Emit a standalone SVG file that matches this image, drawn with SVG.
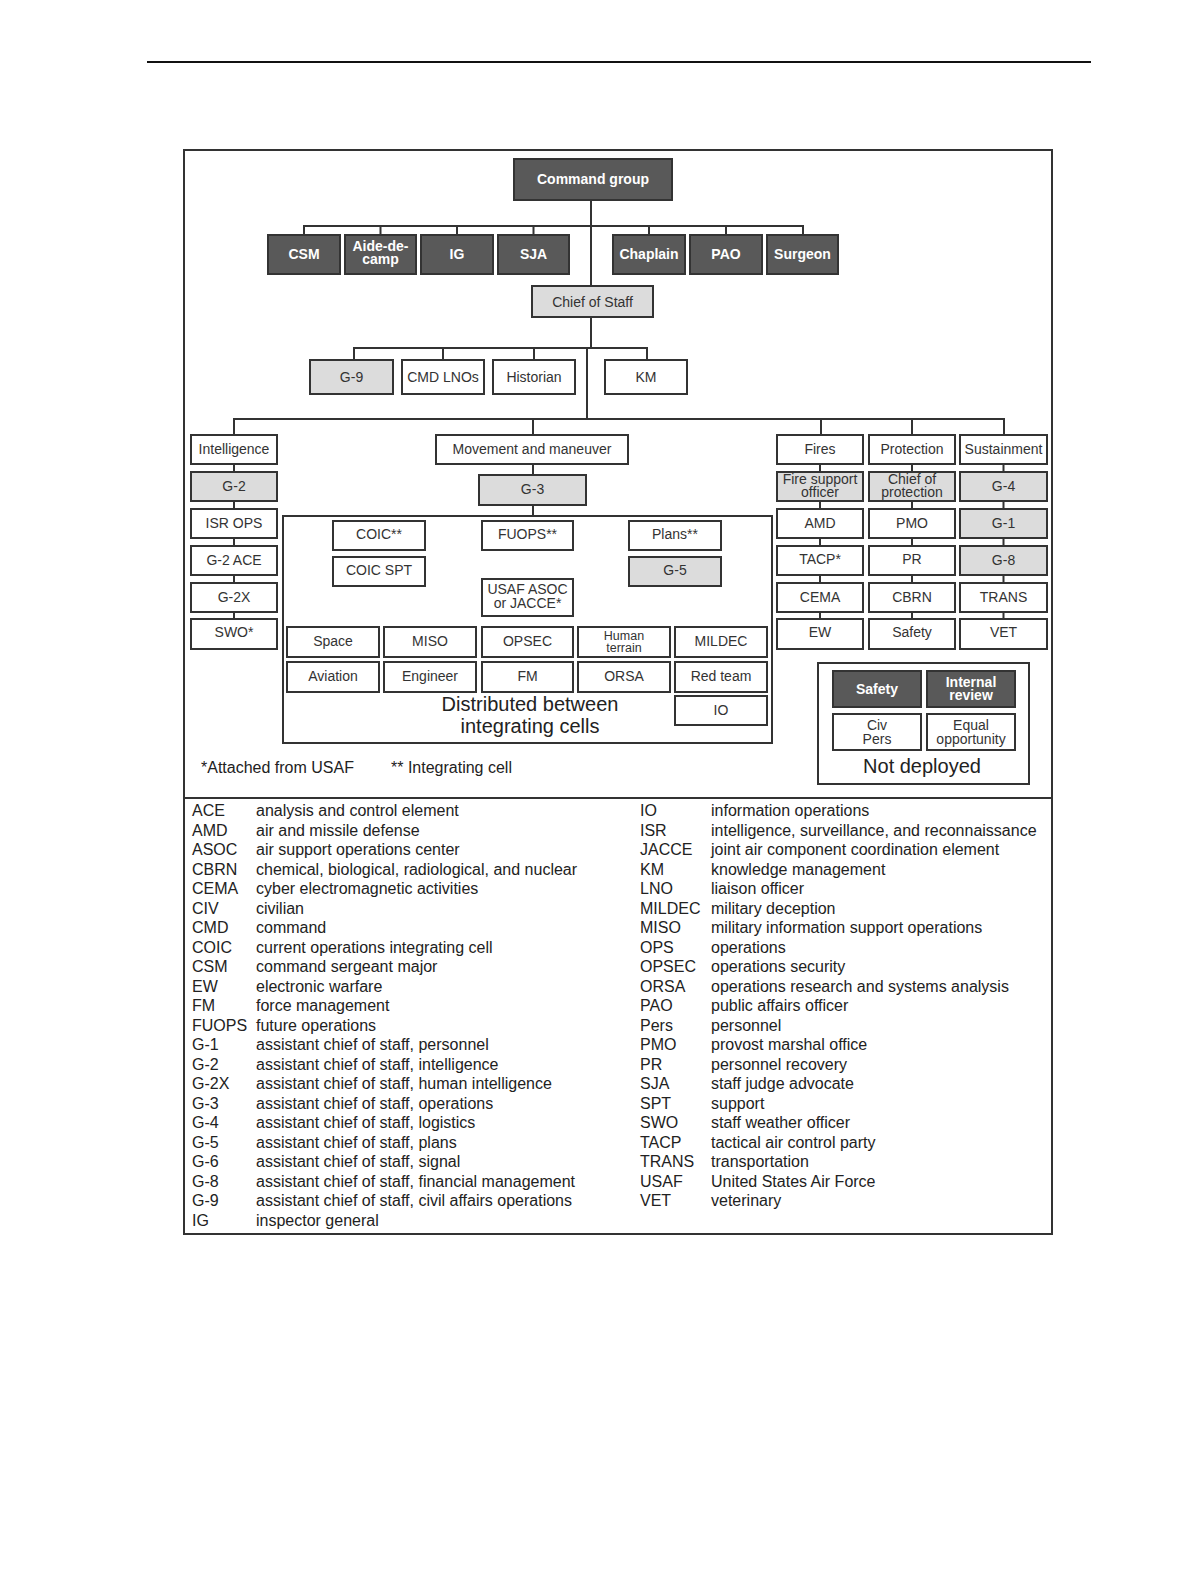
<svg xmlns="http://www.w3.org/2000/svg" width="1200" height="1575" viewBox="0 0 1200 1575">
<style>
text{font-family:"Liberation Sans",Arial,sans-serif;}
.w{fill:#fff;stroke:#333;stroke-width:2}
.g{fill:#dcdcdc;stroke:#333;stroke-width:2}
.d{fill:#595959;stroke:#333;stroke-width:2}
.t{font-size:14px;fill:#333;text-anchor:middle}
.ts{font-size:12.5px;fill:#333;text-anchor:middle}
.tb{font-size:14px;fill:#fff;font-weight:bold;text-anchor:middle}
.c{stroke:#333;stroke-width:2;fill:none}
.lg{font-size:16px;fill:#222}
.big{font-size:20px;fill:#222;text-anchor:middle}
.fn{font-size:16px;fill:#222}
</style>
<rect width="1200" height="1575" fill="#fff"/>
<line x1="147" y1="62" x2="1091" y2="62" stroke="#111" stroke-width="2"/>
<rect x="184" y="150" width="868" height="1084" fill="none" stroke="#333" stroke-width="2"/>
<line x1="184" y1="798" x2="1052" y2="798" stroke="#333" stroke-width="2"/>

<g id="connectors" class="c">
<path d="M591 200V286M304 235V226H803V235M380.5 226V235M457 226V235M533.5 226V235M649 226V235M726 226V235"/>
<path d="M591 317V348M354 360V348H647V360M443 348V360M534 348V360M587 348V419"/>
<path d="M234 435V419H1004V435M533 419V435M821 419V435M912 419V435"/>
<path d="M234 464V472M234 501V509M234 538V546M234 575V583M234 612V619"/>
<path d="M533 464V475M533 505V516"/>
<path d="M820 464V472M820 501V509M820 538V546M820 575V583M820 612V619"/>
<path d="M912 464V472M912 501V509M912 538V546M912 575V583M912 612V619"/>
<path d="M1003.5 464V472M1003.5 501V509M1003.5 538V546M1003.5 575V583M1003.5 612V619"/>
</g>

<g id="command-group"><rect class="d" x="514" y="159" width="158" height="41"/><text class="tb" x="593" y="184">Command group</text></g>
<g id="csm"><rect class="d" x="268" y="235" width="72" height="39"/><text class="tb" x="304" y="259">CSM</text></g>
<g id="aide"><rect class="d" x="345" y="235" width="71" height="39"/><text class="tb" x="380.5" y="251">Aide-de-</text><text class="tb" x="380.5" y="264">camp</text></g>
<g id="ig"><rect class="d" x="421" y="235" width="72" height="39"/><text class="tb" x="457" y="259">IG</text></g>
<g id="sja"><rect class="d" x="498" y="235" width="71" height="39"/><text class="tb" x="533.5" y="259">SJA</text></g>
<g id="chaplain"><rect class="d" x="613" y="235" width="72" height="39"/><text class="tb" x="649" y="259">Chaplain</text></g>
<g id="pao"><rect class="d" x="690" y="235" width="72" height="39"/><text class="tb" x="726" y="259">PAO</text></g>
<g id="surgeon"><rect class="d" x="767" y="235" width="71" height="39"/><text class="tb" x="802.5" y="259">Surgeon</text></g>

<g id="chief-of-staff"><rect class="g" x="532" y="286" width="121" height="31"/><text class="t" x="592.5" y="307">Chief of Staff</text></g>
<g id="g9"><rect class="g" x="310" y="360" width="83" height="34"/><text class="t" x="351.5" y="382">G-9</text></g>
<g id="cmd-lnos"><rect class="w" x="402" y="360" width="82" height="34"/><text class="t" x="443" y="382">CMD LNOs</text></g>
<g id="historian"><rect class="w" x="493" y="360" width="82" height="34"/><text class="t" x="534" y="382">Historian</text></g>
<g id="km"><rect class="w" x="605" y="360" width="82" height="34"/><text class="t" x="646" y="382">KM</text></g>

<g id="intelligence"><rect class="w" x="191" y="435" width="86" height="29"/><text class="t" x="234" y="454">Intelligence</text></g>
<g id="g2"><rect class="g" x="191" y="472" width="86" height="29"/><text class="t" x="234" y="491">G-2</text></g>
<g id="isr-ops"><rect class="w" x="191" y="509" width="86" height="29"/><text class="t" x="234" y="528">ISR OPS</text></g>
<g id="g2-ace"><rect class="w" x="191" y="546" width="86" height="29"/><text class="t" x="234" y="565">G-2 ACE</text></g>
<g id="g2x"><rect class="w" x="191" y="583" width="86" height="29"/><text class="t" x="234" y="602">G-2X</text></g>
<g id="swo"><rect class="w" x="191" y="619" width="86" height="30"/><text class="t" x="234" y="637">SWO*</text></g>

<g id="movement"><rect class="w" x="436" y="435" width="192" height="29"/><text class="t" x="532" y="454">Movement and maneuver</text></g>
<g id="g3"><rect class="g" x="479" y="475" width="107" height="30"/><text class="t" x="532.5" y="494">G-3</text></g>

<g id="integrating-cells">
<rect x="283" y="516" width="489" height="227" fill="#fff" stroke="#333" stroke-width="2"/>
<text class="big" x="530" y="711">Distributed between</text>
<text class="big" x="530" y="733">integrating cells</text>
</g>
<g id="coic"><rect class="w" x="333" y="521" width="92" height="29"/><text class="t" x="379" y="539">COIC**</text></g>
<g id="coic-spt"><rect class="w" x="333" y="557" width="92" height="29"/><text class="t" x="379" y="575">COIC SPT</text></g>
<g id="fuops"><rect class="w" x="482" y="521" width="91" height="29"/><text class="t" x="527.5" y="539">FUOPS**</text></g>
<g id="usaf-asoc"><rect class="w" x="482" y="579" width="91" height="37"/><text class="t" x="527.5" y="594">USAF ASOC</text><text class="t" x="527.5" y="608">or JACCE*</text></g>
<g id="plans"><rect class="w" x="629" y="521" width="92" height="29"/><text class="t" x="675" y="539">Plans**</text></g>
<g id="g5"><rect class="g" x="629" y="557" width="92" height="29"/><text class="t" x="675" y="575">G-5</text></g>

<g id="space"><rect class="w" x="287" y="627" width="92" height="30"/><text class="t" x="333" y="646">Space</text></g>
<g id="miso"><rect class="w" x="384" y="627" width="92" height="30"/><text class="t" x="430" y="646">MISO</text></g>
<g id="opsec"><rect class="w" x="482" y="627" width="91" height="30"/><text class="t" x="527.5" y="646">OPSEC</text></g>
<g id="human-terrain"><rect class="w" x="578" y="627" width="92" height="30"/><text class="ts" x="624" y="640">Human</text><text class="ts" x="624" y="652">terrain</text></g>
<g id="mildec"><rect class="w" x="675" y="627" width="92" height="30"/><text class="t" x="721" y="646">MILDEC</text></g>
<g id="aviation"><rect class="w" x="287" y="662" width="92" height="30"/><text class="t" x="333" y="681">Aviation</text></g>
<g id="engineer"><rect class="w" x="384" y="662" width="92" height="30"/><text class="t" x="430" y="681">Engineer</text></g>
<g id="fm"><rect class="w" x="482" y="662" width="91" height="30"/><text class="t" x="527.5" y="681">FM</text></g>
<g id="orsa"><rect class="w" x="578" y="662" width="92" height="30"/><text class="t" x="624" y="681">ORSA</text></g>
<g id="red-team"><rect class="w" x="675" y="662" width="92" height="30"/><text class="t" x="721" y="681">Red team</text></g>
<g id="io"><rect class="w" x="675" y="696" width="92" height="29"/><text class="t" x="721" y="715">IO</text></g>

<g id="fires"><rect class="w" x="777" y="435" width="86" height="29"/><text class="t" x="820" y="454">Fires</text></g>
<g id="fso"><rect class="g" x="777" y="472" width="86" height="29"/><text class="t" x="820" y="484">Fire support</text><text class="t" x="820" y="497">officer</text></g>
<g id="amd"><rect class="w" x="777" y="509" width="86" height="29"/><text class="t" x="820" y="528">AMD</text></g>
<g id="tacp"><rect class="w" x="777" y="546" width="86" height="29"/><text class="t" x="820" y="564">TACP*</text></g>
<g id="cema"><rect class="w" x="777" y="583" width="86" height="29"/><text class="t" x="820" y="602">CEMA</text></g>
<g id="ew"><rect class="w" x="777" y="619" width="86" height="30"/><text class="t" x="820" y="637">EW</text></g>

<g id="protection"><rect class="w" x="869" y="435" width="86" height="29"/><text class="t" x="912" y="454">Protection</text></g>
<g id="chief-protection"><rect class="g" x="869" y="472" width="86" height="29"/><text class="t" x="912" y="484">Chief of</text><text class="t" x="912" y="497">protection</text></g>
<g id="pmo"><rect class="w" x="869" y="509" width="86" height="29"/><text class="t" x="912" y="528">PMO</text></g>
<g id="pr"><rect class="w" x="869" y="546" width="86" height="29"/><text class="t" x="912" y="564">PR</text></g>
<g id="cbrn"><rect class="w" x="869" y="583" width="86" height="29"/><text class="t" x="912" y="602">CBRN</text></g>
<g id="safety"><rect class="w" x="869" y="619" width="86" height="30"/><text class="t" x="912" y="637">Safety</text></g>

<g id="sustainment"><rect class="w" x="960" y="435" width="87" height="29"/><text class="t" x="1003.5" y="454">Sustainment</text></g>
<g id="g4"><rect class="g" x="960" y="472" width="87" height="29"/><text class="t" x="1003.5" y="491">G-4</text></g>
<g id="g1"><rect class="g" x="960" y="509" width="87" height="29"/><text class="t" x="1003.5" y="528">G-1</text></g>
<g id="g8"><rect class="g" x="960" y="546" width="87" height="29"/><text class="t" x="1003.5" y="565">G-8</text></g>
<g id="trans"><rect class="w" x="960" y="583" width="87" height="29"/><text class="t" x="1003.5" y="602">TRANS</text></g>
<g id="vet"><rect class="w" x="960" y="619" width="87" height="30"/><text class="t" x="1003.5" y="637">VET</text></g>

<g id="not-deployed">
<rect x="818" y="663" width="211" height="121" fill="#fff" stroke="#333" stroke-width="2"/>
<text class="big" x="922" y="773">Not deployed</text>
</g>
<g id="nd-safety"><rect class="d" x="833" y="671" width="88" height="36"/><text class="tb" x="877" y="694">Safety</text></g>
<g id="nd-internal-review"><rect class="d" x="927" y="671" width="88" height="36"/><text class="tb" x="971" y="687">Internal</text><text class="tb" x="971" y="700">review</text></g>
<g id="nd-civ-pers"><rect class="w" x="833" y="714" width="88" height="36"/><text class="t" x="877" y="730">Civ</text><text class="t" x="877" y="744">Pers</text></g>
<g id="nd-eo"><rect class="w" x="927" y="714" width="88" height="36"/><text class="t" x="971" y="730">Equal</text><text class="t" x="971" y="744">opportunity</text></g>

<text class="fn" x="201" y="773">*Attached from USAF</text>
<text class="fn" x="391" y="773">** Integrating cell</text>

<g id="legend-left" class="lg">
<text x="192" y="816">ACE</text><text x="256" y="816">analysis and control element</text>
<text x="192" y="835.5">AMD</text><text x="256" y="835.5">air and missile defense</text>
<text x="192" y="855">ASOC</text><text x="256" y="855">air support operations center</text>
<text x="192" y="874.5">CBRN</text><text x="256" y="874.5">chemical, biological, radiological, and nuclear</text>
<text x="192" y="894">CEMA</text><text x="256" y="894">cyber electromagnetic activities</text>
<text x="192" y="913.5">CIV</text><text x="256" y="913.5">civilian</text>
<text x="192" y="933">CMD</text><text x="256" y="933">command</text>
<text x="192" y="952.5">COIC</text><text x="256" y="952.5">current operations integrating cell</text>
<text x="192" y="972">CSM</text><text x="256" y="972">command sergeant major</text>
<text x="192" y="991.5">EW</text><text x="256" y="991.5">electronic warfare</text>
<text x="192" y="1011">FM</text><text x="256" y="1011">force management</text>
<text x="192" y="1030.5">FUOPS</text><text x="256" y="1030.5">future operations</text>
<text x="192" y="1050">G-1</text><text x="256" y="1050">assistant chief of staff, personnel</text>
<text x="192" y="1069.5">G-2</text><text x="256" y="1069.5">assistant chief of staff, intelligence</text>
<text x="192" y="1089">G-2X</text><text x="256" y="1089">assistant chief of staff, human intelligence</text>
<text x="192" y="1108.5">G-3</text><text x="256" y="1108.5">assistant chief of staff, operations</text>
<text x="192" y="1128">G-4</text><text x="256" y="1128">assistant chief of staff, logistics</text>
<text x="192" y="1147.5">G-5</text><text x="256" y="1147.5">assistant chief of staff, plans</text>
<text x="192" y="1167">G-6</text><text x="256" y="1167">assistant chief of staff, signal</text>
<text x="192" y="1186.5">G-8</text><text x="256" y="1186.5">assistant chief of staff, financial management</text>
<text x="192" y="1206">G-9</text><text x="256" y="1206">assistant chief of staff, civil affairs operations</text>
<text x="192" y="1225.5">IG</text><text x="256" y="1225.5">inspector general</text>
</g>
<g id="legend-right" class="lg">
<text x="640" y="816">IO</text><text x="711" y="816">information operations</text>
<text x="640" y="835.5">ISR</text><text x="711" y="835.5">intelligence, surveillance, and reconnaissance</text>
<text x="640" y="855">JACCE</text><text x="711" y="855">joint air component coordination element</text>
<text x="640" y="874.5">KM</text><text x="711" y="874.5">knowledge management</text>
<text x="640" y="894">LNO</text><text x="711" y="894">liaison officer</text>
<text x="640" y="913.5">MILDEC</text><text x="711" y="913.5">military deception</text>
<text x="640" y="933">MISO</text><text x="711" y="933">military information support operations</text>
<text x="640" y="952.5">OPS</text><text x="711" y="952.5">operations</text>
<text x="640" y="972">OPSEC</text><text x="711" y="972">operations security</text>
<text x="640" y="991.5">ORSA</text><text x="711" y="991.5">operations research and systems analysis</text>
<text x="640" y="1011">PAO</text><text x="711" y="1011">public affairs officer</text>
<text x="640" y="1030.5">Pers</text><text x="711" y="1030.5">personnel</text>
<text x="640" y="1050">PMO</text><text x="711" y="1050">provost marshal office</text>
<text x="640" y="1069.5">PR</text><text x="711" y="1069.5">personnel recovery</text>
<text x="640" y="1089">SJA</text><text x="711" y="1089">staff judge advocate</text>
<text x="640" y="1108.5">SPT</text><text x="711" y="1108.5">support</text>
<text x="640" y="1128">SWO</text><text x="711" y="1128">staff weather officer</text>
<text x="640" y="1147.5">TACP</text><text x="711" y="1147.5">tactical air control party</text>
<text x="640" y="1167">TRANS</text><text x="711" y="1167">transportation</text>
<text x="640" y="1186.5">USAF</text><text x="711" y="1186.5">United States Air Force</text>
<text x="640" y="1206">VET</text><text x="711" y="1206">veterinary</text>
</g>
</svg>
